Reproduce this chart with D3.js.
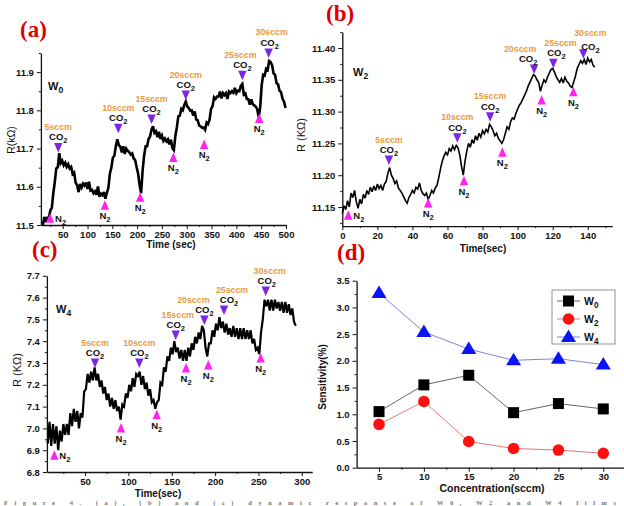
<!DOCTYPE html>
<html><head><meta charset="utf-8">
<script src="https://cdn.jsdelivr.net/npm/d3@7"></script>
<style>
body{margin:0;background:#fff;}
svg{display:block;font-family:"Liberation Sans",Arial,Helvetica,sans-serif;}
</style></head><body>
<svg id="fig" width="624" height="506"></svg>
<script>
// ---------- W0 resistance trace (kΩ), sampled every 3 s from t = 10 s ----------
const w0Start = 10, w0Step = 3;
const w0R = [11.500,11.521,11.512,11.519,11.518,11.538,11.545,11.583,11.612,11.648,
11.651,11.688,11.662,11.668,11.656,11.663,11.652,11.659,11.648,11.652,
11.633,11.637,11.611,11.604,11.586,11.607,11.598,11.608,11.603,11.611,
11.594,11.613,11.590,11.592,11.583,11.588,11.579,11.601,11.574,11.582,
11.578,11.586,11.569,11.584,11.597,11.634,11.650,11.676,11.681,11.706,
11.724,11.709,11.705,11.690,11.706,11.686,11.700,11.694,11.691,11.684,
11.687,11.674,11.670,11.651,11.634,11.604,11.583,11.642,11.681,11.706,
11.706,11.725,11.731,11.750,11.758,11.741,11.745,11.730,11.744,11.725,
11.734,11.720,11.726,11.719,11.724,11.711,11.723,11.701,11.696,11.733,
11.755,11.784,11.786,11.804,11.800,11.814,11.823,11.810,11.806,11.799,
11.800,11.786,11.797,11.776,11.774,11.760,11.758,11.754,11.755,11.749,
11.768,11.764,11.776,11.804,11.811,11.834,11.830,11.836,11.836,11.849,
11.831,11.845,11.840,11.845,11.830,11.849,11.845,11.850,11.846,11.859,
11.845,11.851,11.850,11.864,11.869,11.841,11.844,11.830,11.829,11.815,
11.829,11.816,11.813,11.810,11.803,11.782,11.808,11.866,11.893,11.891,
11.909,11.906,11.929,11.926,11.918,11.896,11.893,11.871,11.868,11.851,
11.848,11.830,11.823,11.806];

// ---------- W2 resistance trace (kΩ), sampled every 1 s from t = 0 s ----------
const w2Start = 0, w2Step = 1;
const w2R = [11.140,11.152,11.146,11.160,11.150,11.172,11.165,11.176,11.158,11.148,
11.162,11.155,11.170,11.164,11.176,11.170,11.181,11.174,11.183,11.176,
11.186,11.179,11.184,11.176,11.186,11.190,11.203,11.212,11.200,11.195,
11.187,11.191,11.180,11.176,11.172,11.166,11.160,11.156,11.165,11.170,
11.176,11.172,11.181,11.178,11.188,11.176,11.171,11.168,11.172,11.162,
11.168,11.176,11.172,11.180,11.184,11.196,11.210,11.222,11.230,11.236,
11.232,11.242,11.238,11.246,11.240,11.247,11.243,11.232,11.214,11.200,
11.222,11.238,11.250,11.244,11.256,11.250,11.262,11.255,11.266,11.260,
11.270,11.265,11.272,11.268,11.280,11.276,11.270,11.262,11.266,11.258,
11.254,11.250,11.256,11.266,11.276,11.272,11.284,11.290,11.288,11.297,
11.304,11.310,11.314,11.320,11.326,11.332,11.340,11.346,11.352,11.358,
11.356,11.350,11.346,11.332,11.342,11.350,11.346,11.354,11.360,11.366,
11.368,11.362,11.355,11.350,11.346,11.352,11.345,11.354,11.348,11.345,
11.340,11.338,11.347,11.356,11.368,11.374,11.380,11.376,11.382,11.374,
11.384,11.378,11.382,11.373,11.370];

// ---------- W4 resistance trace (kΩ), sampled every 2 s from t = 7 s ----------
const w4Start = 7, w4Step = 2;
const w4R = [6.93,7.03,6.92,7.02,6.93,7.01,6.90,6.99,6.94,7.02,
6.97,7.02,6.97,7.07,7.01,7.09,7.03,7.08,7.00,7.07,
7.05,7.17,7.18,7.25,7.21,7.26,7.22,7.28,7.22,7.25,
7.19,7.22,7.16,7.19,7.13,7.16,7.10,7.14,7.09,7.13,
7.08,7.10,7.04,7.11,7.10,7.16,7.14,7.20,7.17,7.23,
7.19,7.25,7.24,7.26,7.20,7.24,7.18,7.21,7.15,7.18,
7.12,7.13,7.09,7.12,7.13,7.21,7.20,7.28,7.26,7.33,
7.31,7.37,7.34,7.40,7.35,7.37,7.32,7.36,7.31,7.36,
7.31,7.37,7.33,7.39,7.36,7.42,7.39,7.44,7.41,7.47,
7.45,7.37,7.33,7.39,7.39,7.45,7.42,7.48,7.45,7.51,
7.46,7.49,7.44,7.48,7.43,7.46,7.42,7.47,7.42,7.46,
7.41,7.46,7.41,7.46,7.41,7.45,7.41,7.45,7.39,7.41,
7.36,7.37,7.34,7.44,7.50,7.59,7.56,7.59,7.54,7.59,
7.54,7.59,7.55,7.58,7.54,7.58,7.53,7.58,7.53,7.57,
7.52,7.55,7.49,7.47];

// ---------- gas switching events: time (s) and resistance (kΩ) at the arrow tip ----------
const flowLabels = ["5sccm","10sccm","15sccm","20sccm","25sccm","30sccm"];
const w0Co2T = [41,162,229,298,412,465];
const w0Co2R = [11.690,11.740,11.764,11.827,11.879,11.937];
const w0N2T  = [24.4,135,206,273,335,446];
const w0N2R  = [11.531,11.565,11.586,11.690,11.724,11.792];
const w2Co2T = [26.6,65.6,84.3,109.4,120.4,137.5];
const w2Co2R = [11.216,11.251,11.284,11.359,11.368,11.383];
const w2N2T  = [3.4,49,69.4,91.3,113.7,131.8];
const w2N2R  = [11.145,11.164,11.199,11.244,11.326,11.339];
const w4Co2T = [61.5,112.6,154.6,187.6,210.3,258.4];
const w4Co2R = [7.277,7.277,7.405,7.474,7.520,7.607];
const w4N2T  = [14.6,91.5,132.7,166.5,192.2,252.6];
const w4N2R  = [6.900,7.025,7.085,7.300,7.314,7.346];

// ---------- sensitivity vs CO2 concentration ----------
const concentrations = [5,10,15,20,25,30];
const sensW0 = [1.05,1.55,1.73,1.03,1.20,1.10];
const sensW2 = [0.81,1.24,0.49,0.36,0.33,0.27];
const sensW4 = [3.27,2.54,2.22,2.01,2.04,1.93];

// ---------- tick values ----------
const aXTicks = [50,100,150,200,250,300,350,400,450,500];
const aYTicks = [11.5,11.6,11.7,11.8,11.9];
const bXTicks = [0,20,40,60,80,100,120,140];
const bYTicks = [11.15,11.20,11.25,11.30,11.35,11.40];
const cXTicks = [50,100,150,200,250,300];
const cYTicks = [6.8,6.9,7.0,7.1,7.2,7.3,7.4,7.5,7.6,7.7];
const dXTicks = [5,10,15,20,25,30];
const dYTicks = [0,0.5,1.0,1.5,2.0,2.5,3.0,3.5];

const svg = d3.select("#fig");
const CO2_COLOR = "#7b26e4", N2_COLOR = "#ff22f0", FLOW_COLOR = "#ea9b3c";

function drawAxes(g, x, y, xt, xm, yt, ym, xf, yf){
  const bottom = y.range()[0], left = x.range()[0];
  g.append("g").attr("transform", `translate(0,${bottom})`)
    .call(d3.axisBottom(x).tickValues(xt).tickSize(4).tickSizeOuter(0).tickPadding(2).tickFormat(xf));
  g.append("g").attr("transform", `translate(0,${bottom})`)
    .call(d3.axisBottom(x).tickValues(xm).tickSize(2).tickSizeOuter(0).tickFormat(""))
    .select(".domain").remove();
  g.append("g").attr("transform", `translate(${left},0)`)
    .call(d3.axisLeft(y).tickValues(yt).tickSize(4).tickSizeOuter(0).tickPadding(3).tickFormat(yf));
  g.append("g").attr("transform", `translate(${left},0)`)
    .call(d3.axisLeft(y).tickValues(ym).tickSize(2).tickSizeOuter(0).tickFormat(""))
    .select(".domain").remove();
  g.selectAll(".domain").attr("stroke", "#111").attr("stroke-width", 1.3);
  g.selectAll(".tick line").attr("stroke", "#111").attr("stroke-width", 1);
  g.selectAll(".tick text").attr("font-size", 9.5).attr("font-weight", "bold").attr("fill", "#111");
}

function subText(g, x, y, main, sub, size, color, anchor){
  const t = g.append("text").attr("x", x).attr("y", y).attr("font-size", size)
    .attr("font-weight", "bold").attr("fill", color).attr("text-anchor", anchor || "middle");
  t.append("tspan").text(main);
  t.append("tspan").attr("font-size", size * 0.78).attr("dy", size * 0.3).text(sub);
  return t;
}

function panelLabel(x, y, s){
  svg.append("text").attr("x", x).attr("y", y).text(s)
    .attr("font-family", "'Liberation Serif','Times New Roman',serif")
    .attr("font-size", 23).attr("font-weight", "bold").attr("fill", "#e00000");
}

// noisy resistance record drawn as a heavy jagged stroke
function trace(g, x, y, start, step, values, width){
  g.append("path").datum(values)
    .attr("fill", "none").attr("stroke", "#000").attr("stroke-width", width)
    .attr("stroke-linejoin", "miter").attr("stroke-miterlimit", 3)
    .attr("d", d3.line().x((d, i) => x(start + i * step)).y(d => y(d)));
}

// layout.flowDx / co2Dx nudge individual annotation labels sideways
function events(g, x, y, co2T, co2R, n2T, n2R, layout){
  co2T.forEach((t, i) => {
    const px = x(t), py = y(co2R[i]);
    g.append("path").attr("fill", CO2_COLOR)
      .attr("d", `M${px - 4.2},${py - 9.5}L${px + 4.2},${py - 9.5}L${px},${py}Z`);
    subText(g, px + layout.co2Dx[i], py - 12 + layout.co2Dy[i], "CO", "2", 9.5, "#111");
    g.append("text").attr("x", px + layout.flowDx[i]).attr("y", py - 22.5)
      .attr("text-anchor", "middle").attr("font-size", 8.8).attr("font-weight", "bold")
      .attr("fill", FLOW_COLOR).text(flowLabels[i]);
  });
  n2T.forEach((t, i) => {
    const px = x(t), py = y(n2R[i]);
    g.append("path").attr("fill", N2_COLOR)
      .attr("d", `M${px},${py}L${px - 4.2},${py + 9.5}L${px + 4.2},${py + 9.5}Z`);
    if (i === 0) subText(g, px + 5, py + 9, "N", "2", 9.5, "#111", "start");
    else subText(g, px, py + 19, "N", "2", 9.5, "#111");
  });
}

// ---------- (a) W0 ----------
{
  const x = d3.scaleLinear().domain([6, 500]).range([40.9, 286]);
  const y = d3.scaleLinear().domain([11.5, 11.95]).range([225, 53]);
  const g = svg.append("g");
  drawAxes(g, x, y, aXTicks, d3.range(25, 500, 50), aYTicks, [11.55,11.65,11.75,11.85,11.95], d3.format("d"), d3.format(".1f"));
  trace(g, x, y, w0Start, w0Step, w0R, 2.6);
  events(g, x, y, w0Co2T, w0Co2R, w0N2T, w0N2R,
    {co2Dx:[0,0,0,0,0,1], co2Dy:[0,0,0,0,0,0], flowDx:[0,0,0,0,-2,3]});
  subText(g, 48, 90, "W", "0", 11, "#111", "start");
  g.append("text").attr("transform", "translate(15,140) rotate(-90)").attr("text-anchor", "middle")
    .attr("font-size", 10.5).attr("fill", "#111").text("R(kΩ)");
  g.append("text").attr("x", 171).attr("y", 248).attr("text-anchor", "middle")
    .attr("font-size", 10).attr("font-weight", "bold").attr("fill", "#111").text("Time (sec)");
  panelLabel(20, 37, "(a)");
}

// ---------- (b) W2 ----------
{
  const x = d3.scaleLinear().domain([0, 154]).range([342.3, 612.3]);
  const y = d3.scaleLinear().domain([11.12, 11.425]).range([226.1, 32.1]);
  const g = svg.append("g");
  drawAxes(g, x, y, bXTicks, d3.range(10, 154, 20), bYTicks, [11.125,11.175,11.225,11.275,11.325,11.375,11.425], d3.format("d"), d3.format(".2f"));
  trace(g, x, y, w2Start, w2Step, w2R, 1.6);
  events(g, x, y, w2Co2T, w2Co2R, w2N2T, w2N2R,
    {co2Dx:[0,0,0,-6,3,7], co2Dy:[0,0,0,0,0,3], flowDx:[0,0,0,-14,7,7]});
  subText(g, 353, 76, "W", "2", 11, "#111", "start");
  g.append("text").attr("transform", "translate(305,135) rotate(-90)").attr("text-anchor", "middle")
    .attr("font-size", 11).attr("fill", "#111").text("R (KΩ)");
  g.append("text").attr("x", 483).attr("y", 252).attr("text-anchor", "middle")
    .attr("font-size", 10).attr("font-weight", "bold").attr("fill", "#111").text("Time(sec)");
  panelLabel(326, 21, "(b)");
}

// ---------- (c) W4 ----------
{
  const x = d3.scaleLinear().domain([6, 312]).range([46.9, 312.2]);
  const y = d3.scaleLinear().domain([6.8, 7.7]).range([472, 275.8]);
  const g = svg.append("g");
  drawAxes(g, x, y, cXTicks, d3.range(25, 312, 50), cYTicks, d3.range(6.85, 7.7, 0.1), d3.format("d"), d3.format(".1f"));
  trace(g, x, y, w4Start, w4Step, w4R, 2.2);
  events(g, x, y, w4Co2T, w4Co2R, w4N2T, w4N2R,
    {co2Dx:[0,0,0,0,5,1], co2Dy:[0,0,0,0,0,0], flowDx:[0,0,2,-11,8,4]});
  subText(g, 56, 313, "W", "4", 11, "#111", "start");
  g.append("text").attr("transform", "translate(21,370) rotate(-90)").attr("text-anchor", "middle")
    .attr("font-size", 11).attr("fill", "#111").text("R (KΩ)");
  g.append("text").attr("x", 158).attr("y", 496.5).attr("text-anchor", "middle")
    .attr("font-size", 10).attr("font-weight", "bold").attr("fill", "#111").text("Time(sec)");
  panelLabel(32, 257, "(c)");
}

// ---------- (d) sensitivity ----------
{
  const x = d3.scaleLinear().domain([2.5, 32.5]).range([356.6, 625.7]);
  const y = d3.scaleLinear().domain([0, 3.5]).range([467.7, 280.7]);
  const g = svg.append("g");
  drawAxes(g, x, y, dXTicks, d3.range(7.5, 32.5, 5), dYTicks, d3.range(0.25, 3.5, 0.5), d3.format("d"), d3.format(".1f"));
  const series = [
    {name: "0", vals: sensW0, line: "#555", fill: "#000", shape: "square"},
    {name: "2", vals: sensW2, line: "#e06a6a", fill: "#ff1010", shape: "circle"},
    {name: "4", vals: sensW4, line: "#7474d4", fill: "#0a14f5", shape: "triangle"}
  ];
  const marker = (sel, s, cx, cy) => {
    if (s.shape === "square") sel.append("rect").attr("x", cx - 5.5).attr("y", cy - 5.5).attr("width", 11).attr("height", 11).attr("fill", s.fill);
    else if (s.shape === "circle") sel.append("circle").attr("cx", cx).attr("cy", cy).attr("r", 5.8).attr("fill", s.fill);
    else sel.append("path").attr("fill", s.fill).attr("d", `M${cx},${cy - 7.5}L${cx - 7.5},${cy + 5}L${cx + 7.5},${cy + 5}Z`);
  };
  series.forEach(s => {
    g.append("path").datum(s.vals).attr("fill", "none").attr("stroke", s.line).attr("stroke-width", 0.9)
      .attr("d", d3.line().x((d, i) => x(concentrations[i])).y(d => y(d)));
    s.vals.forEach((v, i) => marker(g, s, x(concentrations[i]), y(v)));
  });
  // legend
  const lg = g.append("g");
  lg.append("rect").attr("x", 552).attr("y", 290).attr("width", 63).attr("height", 54)
    .attr("fill", "#fff").attr("stroke", "#777").attr("stroke-width", 0.8);
  series.forEach((s, i) => {
    const ly = 301 + i * 18;
    lg.append("line").attr("x1", 557).attr("x2", 580).attr("y1", ly).attr("y2", ly).attr("stroke", s.line).attr("stroke-width", 0.9);
    marker(lg, s, 568.5, ly);
    subText(lg, 584, ly + 4, "W", s.name, 10.5, "#111", "start");
  });
  g.append("text").attr("transform", "translate(326,377) rotate(-90)").attr("text-anchor", "middle")
    .attr("font-size", 10).attr("font-weight", "bold").attr("fill", "#111").text("Sensitivity(%)");
  g.append("text").attr("x", 492).attr("y", 492).attr("text-anchor", "middle")
    .attr("font-size", 10.5).attr("font-weight", "bold").attr("fill", "#111").text("Concentration(sccm)");
  panelLabel(337, 260, "(d)");
}

// caption line along the bottom edge of the figure
svg.append("text").attr("x", 4).attr("y", 504.5)
  .attr("font-family", "'Liberation Serif','Times New Roman',serif")
  .attr("font-size", 6.5).attr("font-weight", "bold").attr("fill", "#444").attr("opacity", 0.75)
  .attr("textLength", 612).attr("lengthAdjust", "spacing")
  .text("Figure 4. (a), (b) and (c) dynamic response of W0, W2 and W4 films");
</script>
</body></html>
